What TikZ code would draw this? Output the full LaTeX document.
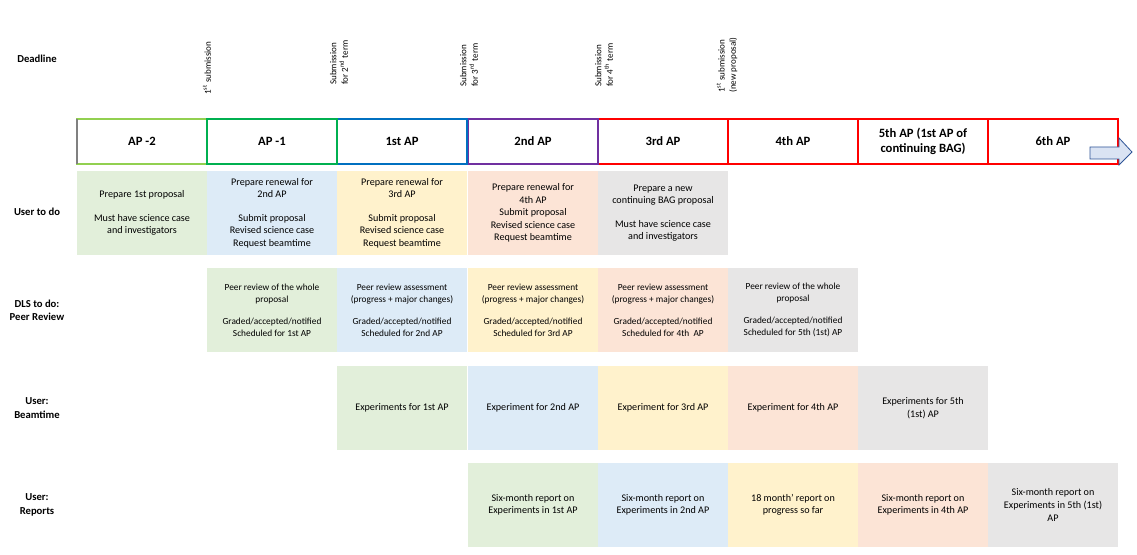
\documentclass[tikz,border=0pt]{standalone}
\usepackage{fontspec}
\setmainfont{Carlito}
\definecolor{cgreen}{HTML}{E2EFDA}
\definecolor{cblue}{HTML}{DDEBF7}
\definecolor{cyellow}{HTML}{FFF2CC}
\definecolor{corange}{HTML}{FCE4D6}
\definecolor{cgray}{HTML}{E7E6E6}
\definecolor{lgreen}{HTML}{92D050}
\definecolor{dgreen}{HTML}{00B050}
\definecolor{dblue}{HTML}{0070C0}
\definecolor{dpurple}{HTML}{7030A0}
\definecolor{dred}{HTML}{FF0000}
\definecolor{arrowfill}{HTML}{DAE3F3}
\definecolor{arrowline}{HTML}{2F5597}
\tikzset{
  rowlabel/.style={font=\fontsize{8}{10}\selectfont\bfseries, align=center},
  deadline/.style={font=\fontsize{6.8}{8.5}\selectfont, rotate=90, anchor=west, align=left, inner sep=0pt},
  apcell/.style={draw, line width=0.8pt, minimum width=97.5pt, minimum height=33.75pt,
    font=\fontsize{9.5}{11}\selectfont\bfseries, align=center, inner sep=1pt},
  cell/.style={minimum width=97.5pt, minimum height=63pt, align=center, inner sep=1pt,
    font=\fontsize{7.6}{9.4}\selectfont},
  smallcell/.style={cell, font=\fontsize{7}{9}\selectfont}
}
\begin{document}
\begin{tikzpicture}[x=0.75pt, y=-0.75pt]
\useasboundingbox (0,0) rectangle (1137,555);

% row labels
\node[rowlabel] (ldead) at (37,59) {Deadline};
\node[rowlabel] (luser) at (37,212) {User to do};
\node[rowlabel] (ldls) at (37,310) {DLS to do:\\Peer Review};
\node[rowlabel] (lbeam) at (37,408) {User:\\Beamtime};
\node[rowlabel] (lrep) at (37,505) {User:\\Reports};

% deadlines
\node[deadline] (d1) at (207,95) {1\textsuperscript{st} submission};
\node[deadline] (d2) at (339,85) {Submission\\for 2\textsuperscript{nd} term};
\node[deadline] (d3) at (469,87) {Submission\\for 3\textsuperscript{rd} term};
\node[deadline] (d4) at (604,87) {Submission\\for 4\textsuperscript{th} term};
\node[deadline] (d5) at (727,93) {1\textsuperscript{st} submission\\(new proposal)};

% timeline
\node[apcell, draw=lgreen] (ap0) at (142,141.5) {AP -2};
\draw[gray, line width=0.8pt] (77,119) -- (77,164);
\node[apcell, draw=dred] (ap5) at (793,141.5) {4th AP};
\node[apcell, draw=dred] (ap6) at (923,141.5) {5th AP (1st AP of\\continuing BAG)};
\node[apcell, draw=dred] (ap7) at (1053,141.5) {6th AP};
\node[apcell, draw=dred] (ap4) at (663,141.5) {3rd AP};
\node[apcell, draw=dpurple] (ap3) at (533,141.5) {2nd AP};
\node[apcell, draw=dblue] (ap2) at (402,141.5) {1st AP};
\node[apcell, draw=dgreen] (ap1) at (272,141.5) {AP -1};
\filldraw[fill=arrowfill, draw=arrowline, line width=0.6pt]
  (1090,147) -- (1119,147) -- (1119,138) -- (1132,152) -- (1119,165) -- (1119,159) -- (1090,159) -- cycle;

% user to do
\node[cell, fill=cgreen] (u1) at (142,213) {Prepare 1st proposal\\[1.1em]Must have science case\\and investigators};
\node[cell, fill=cblue] (u2) at (272,213) {Prepare renewal for\\2nd AP\\[1.1em]Submit proposal\\Revised science case\\Request beamtime};
\node[cell, fill=cyellow] (u3) at (402,213) {Prepare renewal for\\3rd AP\\[1.1em]Submit proposal\\Revised science case\\Request beamtime};
\node[cell, fill=corange] (u4) at (533,213) {Prepare renewal for\\4th AP\\Submit proposal\\Revised science case\\Request beamtime};
\node[cell, fill=cgray] (u5) at (663,213) {Prepare a new\\continuing BAG proposal\\[1.1em]Must have science case\\and investigators};

% peer review
\node[smallcell, fill=cgreen] (p1) at (272,310) {Peer review of the whole\\proposal\\[1.1em]Graded/accepted/notified\\Scheduled for 1st AP};
\node[smallcell, fill=cblue] (p2) at (402,310) {Peer review assessment\\(progress + major changes)\\[1.1em]Graded/accepted/notified\\Scheduled for 2nd AP};
\node[smallcell, fill=cyellow] (p3) at (533,310) {Peer review assessment\\(progress + major changes)\\[1.1em]Graded/accepted/notified\\Scheduled for 3rd AP};
\node[smallcell, fill=corange] (p4) at (663,310) {Peer review assessment\\(progress + major changes)\\[1.1em]Graded/accepted/notified\\Scheduled for 4th\ \ AP};
\node[smallcell, fill=cgray] (p5) at (793,310) {Peer review of the whole\\proposal\\[1.1em]Graded/accepted/notified\\Scheduled for 5th (1st) AP};

% beamtime
\node[cell, fill=cgreen] (b1) at (402,408) {Experiments for 1st AP};
\node[cell, fill=cblue] (b2) at (533,408) {Experiment for 2nd AP};
\node[cell, fill=cyellow] (b3) at (663,408) {Experiment for 3rd AP};
\node[cell, fill=corange] (b4) at (793,408) {Experiment for 4th AP};
\node[cell, fill=cgray] (b5) at (923,408) {Experiments for 5th\\(1st) AP};

% reports
\node[cell, fill=cgreen] (r1) at (533,505) {Six-month report on\\Experiments in 1st AP};
\node[cell, fill=cblue] (r2) at (663,505) {Six-month report on\\Experiments in 2nd AP};
\node[cell, fill=cyellow] (r3) at (793,505) {18 month' report on\\progress so far};
\node[cell, fill=corange] (r4) at (923,505) {Six-month report on\\Experiments in 4th AP};
\node[cell, fill=cgray] (r5) at (1053,505) {Six-month report on\\Experiments in 5th (1st)\\AP};
\end{tikzpicture}
\end{document}
